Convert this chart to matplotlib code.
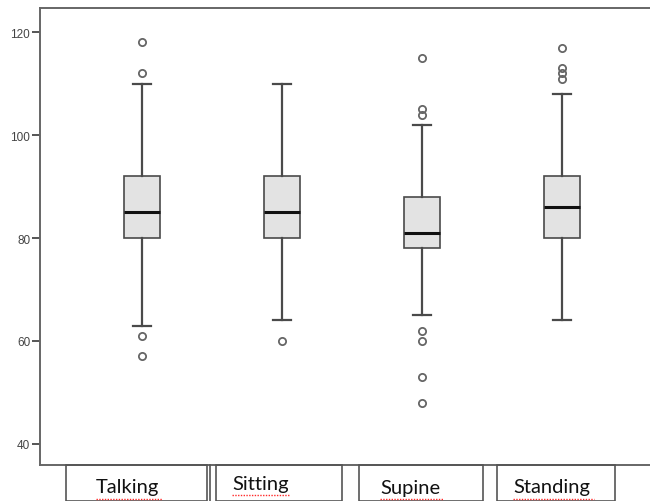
import matplotlib
matplotlib.use("Agg")
import matplotlib.pyplot as plt
from matplotlib.patches import Rectangle
from matplotlib.lines import Line2D

categories = ["Talking", "Sitting", "Supine", "Standing"]
q1 = [80, 80, 78, 80]
median = [85, 85, 81, 86]
q3 = [92, 92, 88, 92]
whisker_low = [63, 64, 65, 64]
whisker_high = [110, 110, 102, 108]
outliers = [
    [118, 112, 61, 57],
    [60],
    [115, 105, 104, 62, 60, 53, 48],
    [117, 113, 112, 111],
]
y_ticks = [40, 60, 80, 100, 120]

W, H = 650, 502
fig = plt.figure(figsize=(W / 100, H / 100), dpi=100)
ax = fig.add_axes([40 / W, (H - 466) / H, 610 / W, (466 - 9) / H])

stats = []
for i, c in enumerate(categories):
    stats.append(dict(label=c, q1=q1[i], med=median[i], q3=q3[i],
                      whislo=whisker_low[i], whishi=whisker_high[i],
                      fliers=outliers[i]))

edge = "#4a4a4a"
ax.bxp(stats, positions=range(1, len(categories) + 1), widths=0.26,
       patch_artist=True, showfliers=True,
       boxprops=dict(facecolor="#e3e3e3", edgecolor=edge, linewidth=1.2),
       medianprops=dict(color="#111111", linewidth=2.2),
       whiskerprops=dict(color=edge, linewidth=1.6),
       capprops=dict(color=edge, linewidth=1.6),
       capwidths=0.13,
       flierprops=dict(marker="o", markersize=5.2, markerfacecolor="none",
                       markeredgecolor="#666666", markeredgewidth=1.3))

ax.set_xlim(0.271, 4.629)
ax.set_ylim(35.9, 124.7)
ax.set_yticks(y_ticks)
ax.set_yticklabels([str(t) for t in y_ticks], fontsize=8.5, color="#444444",
                   family="Liberation Sans")
ax.tick_params(axis="y", length=6, width=1.4, color="#555555", pad=1)
ax.set_xticks([])
for s in ["left", "top", "bottom"]:
    ax.spines[s].set_color("#666666")
    ax.spines[s].set_linewidth(1.4)
ax.spines["right"].set_visible(False)

# label boxes below the plot
label_boxes = [(66, 207), (216, 342), (359, 483), (497, 615)]
label_x = [96, 232, 380, 513]
label_y = [488, 485, 489, 488]
for (x0, x1), tx, ty, c in zip(label_boxes, label_x, label_y, categories):
    fig.add_artist(Rectangle((x0 / W, 0), (x1 - x0) / W, (H - 466) / H,
                             transform=fig.transFigure, facecolor="none",
                             edgecolor="#555555", linewidth=1.2))
    fig.text(tx / W, (H - ty) / H, c, fontsize=14.5, family="Lato",
             color="#111111", ha="left", va="center")
fig.add_artist(Line2D([210 / W, 210 / W], [0, (H - 466) / H],
                      transform=fig.transFigure, color="#555555", lw=1.2))

# red spell-check underlines
under = [(96, 162, 500), (232, 289, 496), (380, 443, 500), (513, 594, 500)]
for x0, x1, y in under:
    fig.add_artist(Line2D([x0 / W, x1 / W], [(H - y) / H] * 2,
                          transform=fig.transFigure, color="#ff2a2a",
                          lw=1.0, ls=(0, (1, 1)), zorder=5))

fig.savefig("out.png", dpi=100)
